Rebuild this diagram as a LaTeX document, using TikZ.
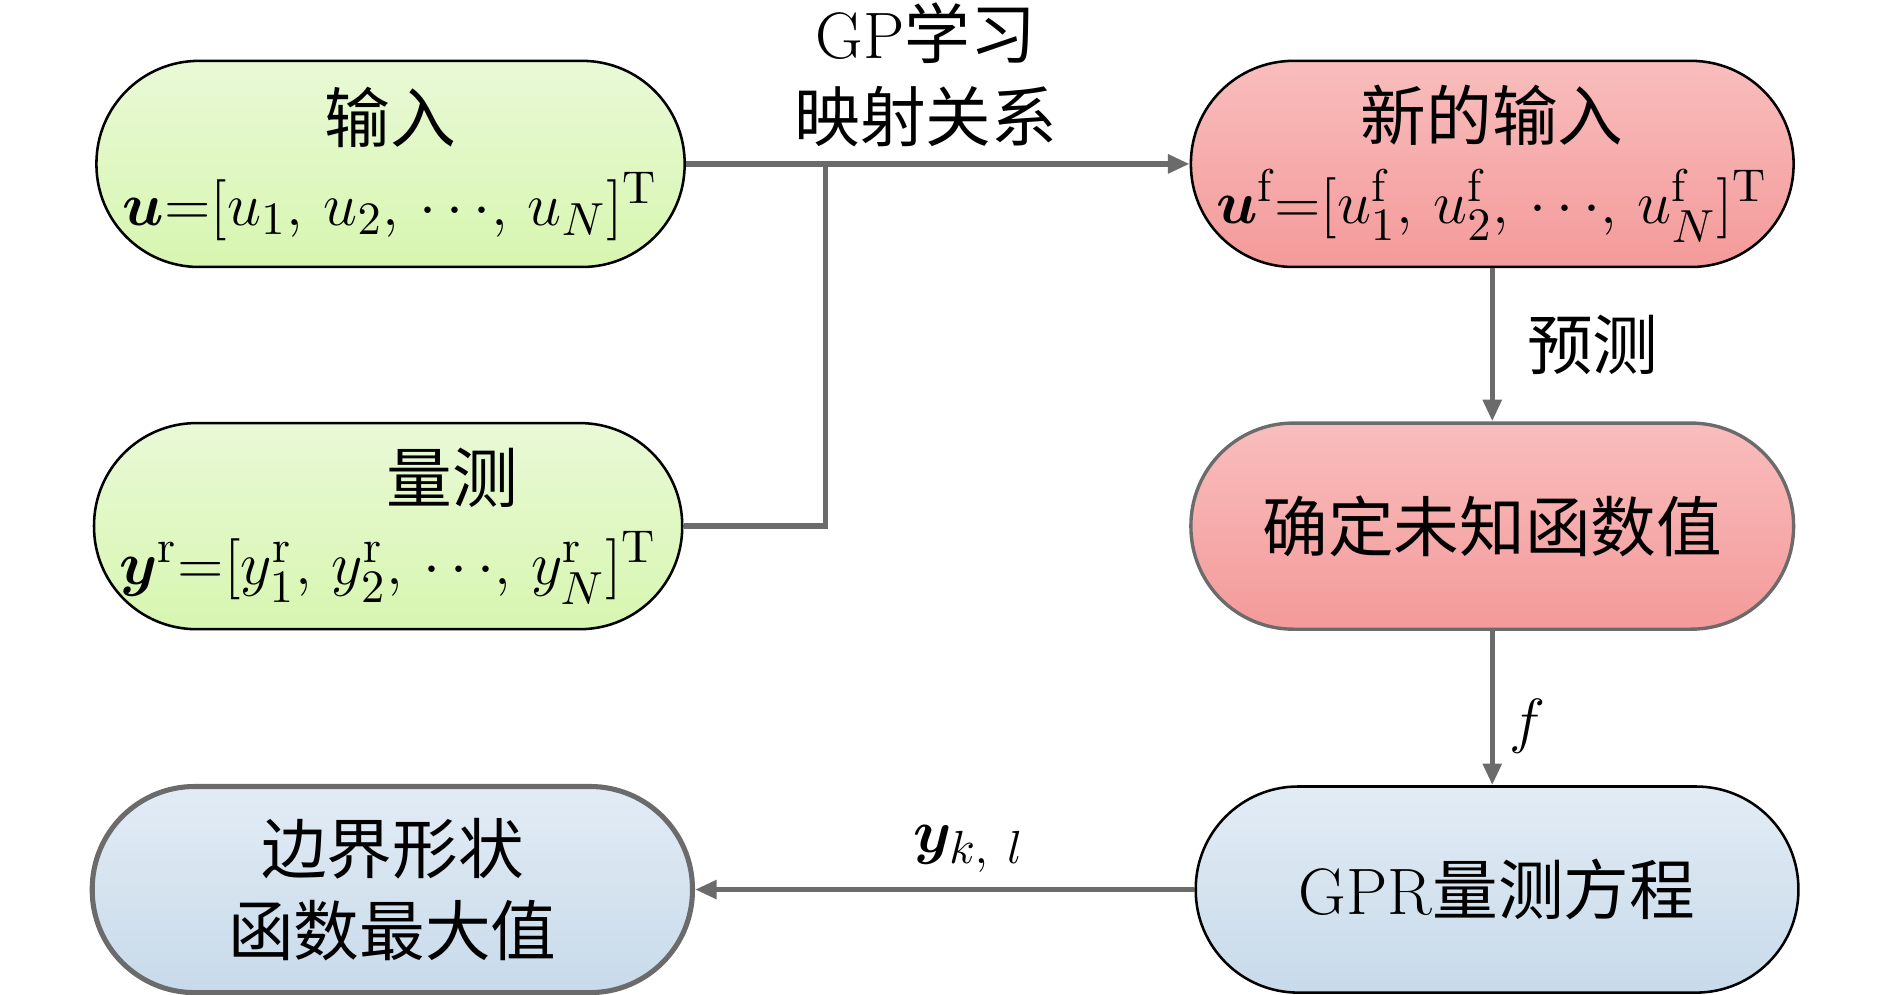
\documentclass[tikz,border=0pt]{standalone}
\usepackage{fontspec}
\usepackage{amsmath,bm}
\newfontfamily\cjk{Noto Sans CJK SC}
\usetikzlibrary{arrows.meta}

\definecolor{grnTop}{HTML}{E9F9D6}
\definecolor{grnBot}{HTML}{D7F6B0}
\definecolor{redTop}{HTML}{F9BDBD}
\definecolor{redBot}{HTML}{F49A9A}
\definecolor{bluTop}{HTML}{E2ECF5}
\definecolor{bluBot}{HTML}{C8DAEA}
\definecolor{lineGray}{HTML}{6B6B6B}

\begin{document}
\begin{tikzpicture}[x=1cm,y=1cm]
        % rounded flow boxes, arrows in gray
        \tikzstyle{pill} = [rounded corners=0.85cm, minimum width=4.88cm, minimum height=1.71cm, inner xsep=0pt, align=center, font=\fontsize{15.5}{19.5}\selectfont];
        \tikzstyle{greenpill} = [pill, draw=black, line width=0.6pt, top color=grnTop, bottom color=grnBot];
        \tikzstyle{redpill} = [pill, top color=redTop, bottom color=redBot];
        \tikzstyle{bluepill} = [pill, top color=bluTop, bottom color=bluBot];
        \tikzstyle{flow} = [draw=lineGray, line width=1.3pt, -{Triangle[length=0.18cm,width=0.15cm]}];
        \tikzstyle{tag} = [align=center, font=\fontsize{15.5}{19.5}\selectfont];

        \useasboundingbox (0,0) rectangle (15.68,-8.247);

        \node[greenpill] (input) at (3.24,-1.36) {{\cjk 输入}\\$\bm{u}{=}[u_1,\,u_2,\,{\cdots},\,u_N]^{\mathrm{T}}$};
        \node[greenpill] (measure) at (3.22,-4.365) {\hspace*{1.06cm}{\cjk 量测}\\$\bm{y}^{\mathrm{r}}{=}[y^{\mathrm{r}}_1,\,y^{\mathrm{r}}_2,\,{\cdots},\,y^{\mathrm{r}}_N]^{\mathrm{T}}$};
        \node[bluepill,draw=lineGray,line width=1.2pt,minimum width=4.98cm] (boundary) at (3.255,-7.38) {{\cjk 边界形状}\\{\cjk 函数最大值}};
        \node[redpill,draw=black,line width=0.6pt,minimum width=5cm] (newinput) at (12.38,-1.36) {{\cjk 新的输入}\\$\bm{u}^{\mathrm{f}}{=}[u^{\mathrm{f}}_1,\,u^{\mathrm{f}}_2,\,{\cdots},\,u^{\mathrm{f}}_N]^{\mathrm{T}}$};
        \node[redpill,draw=lineGray,line width=0.8pt,minimum width=5cm] (unknown) at (12.38,-4.365) {\cjk 确定未知函数值};
        \node[bluepill,draw=black,line width=0.6pt,minimum width=5cm] (gpr) at (12.42,-7.38) {GPR{\cjk 量测方程}};

        \coordinate (joint) at (6.85,-1.36);

        \draw[flow] (input.east) -- (newinput.west) node[tag,midway,above,xshift=-0.1cm] (learn) {GP{\cjk 学习}\\{\cjk 映射关系}};
        \draw[draw=lineGray, line width=1.3pt] (measure.east) -| (joint);
        \draw[flow] (newinput.south) -- (unknown.north) node[tag,midway,right,xshift=0.15cm] (predict) {\cjk 预测};
        \draw[flow] (unknown.south) -- (unknown.south |- gpr.north) node[tag,midway,right,yshift=-0.15cm] (fval) {$f$};
        \draw[flow] (gpr.west) -- (boundary.east) node[tag,midway,above,xshift=0.2cm] (ykl) {$\bm{y}_{k,\ l}$};

    \end{tikzpicture}
\end{document}
